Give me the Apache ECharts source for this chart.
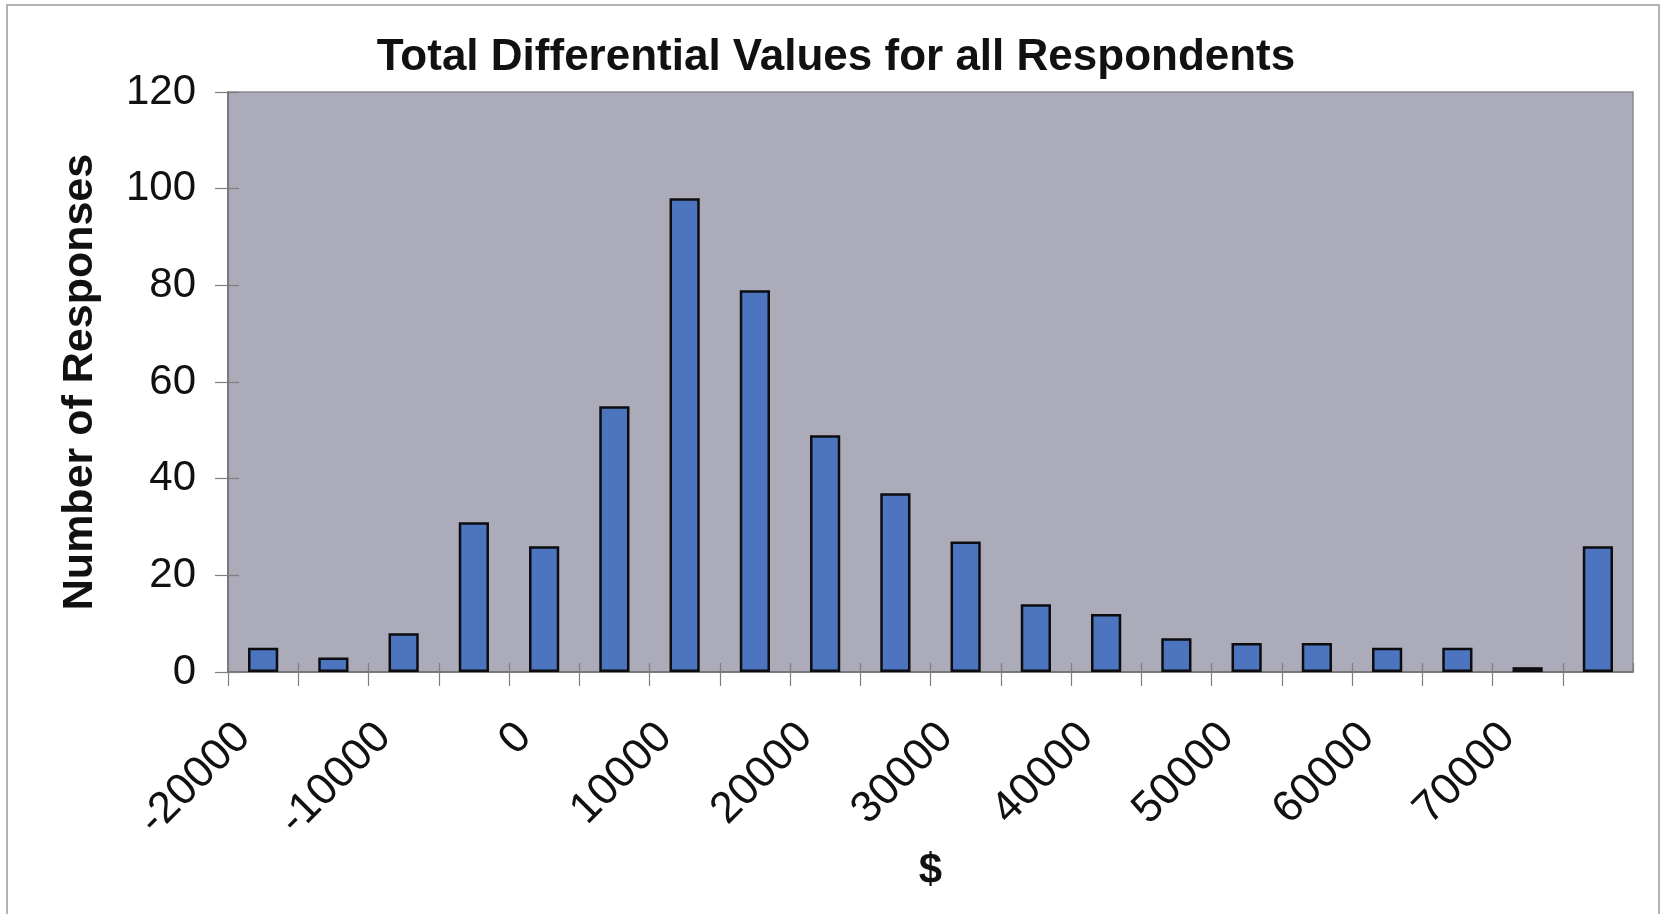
<!DOCTYPE html>
<html>
<head>
<meta charset="utf-8">
<title>Total Differential Values for all Respondents</title>
<script src="https://cdn.jsdelivr.net/npm/echarts@6/dist/echarts.min.js"></script>
<style>
  html, body { margin: 0; padding: 0; background: #ffffff; }
  #chart { width: 1662px; height: 914px; }
</style>
</head>
<body>
<div id="chart"></div>
<script>
// Histogram bins: lower bound of each $5000-wide bin
const binStarts = [-20000, -15000, -10000, -5000, 0, 5000, 10000, 15000, 20000, 25000,
                   30000, 35000, 40000, 45000, 50000, 55000, 60000, 65000, 70000, 75000];
const binWidth = 5000;
// Number of responses falling in each bin
const counts = [5, 3, 8, 31, 26, 55, 98, 79, 49, 37,
                27, 14, 12, 7, 6, 6, 5, 5, 1, 26];
// Dollar values printed under the axis
const xTickLabels = [-20000, -10000, 0, 10000, 20000, 30000, 40000, 50000, 60000, 70000];
const yTicks = [0, 20, 40, 60, 80, 100, 120];

const xMin = binStarts[0];
const xMax = binStarts[binStarts.length - 1] + binWidth;
const barData = binStarts.map((s, i) => [s + binWidth / 2, counts[i]]);

const FONT = '"Liberation Sans", Arial, sans-serif';
const TICK = { color: '#7e7e82', width: 1.2 };

const chart = echarts.init(document.getElementById('chart'));
chart.setOption({
  animation: false,
  backgroundColor: '#ffffff',
  grid: {
    show: true, backgroundColor: '#ababb9', borderColor: '#8a8a8e', borderWidth: 1.5,
    left: 228, right: 29, top: 92, bottom: 242
  },
  xAxis: [
    {
      type: 'value',
      min: xMin,
      max: xMax,
      interval: binWidth,
      name: '$',
      nameLocation: 'middle',
      nameGap: 178,
      nameTextStyle: { fontFamily: FONT, fontSize: 42, fontWeight: 'bold', color: '#111' },
      axisLine: { show: true, onZero: false, lineStyle: { color: '#6e6e6e', width: 1.5 } },
      axisTick: { show: true, length: 14, lineStyle: TICK },
      splitLine: { show: false },
      axisLabel: {
        rotate: 45,
        margin: 74,
        padding: [0, -22, 0, 0],
        fontFamily: FONT,
        fontSize: 44,
        color: '#111',
        showMaxLabel: false,
        formatter: function (v) {
          return xTickLabels.indexOf(v) >= 0 ? String(v) : '';
        }
      }
    },
    {
      // upper half of the crossing tick marks on the dollar axis
      type: 'value',
      position: 'bottom',
      min: xMin,
      max: xMax,
      interval: binWidth,
      axisLine: { show: false, onZero: false },
      axisTick: { show: true, inside: true, length: 9, lineStyle: TICK },
      axisLabel: { show: false },
      splitLine: { show: false }
    }
  ],
  yAxis: [
    {
      type: 'value',
      min: yTicks[0],
      max: yTicks[yTicks.length - 1],
      interval: 20,
      name: 'Number of Responses',
      nameLocation: 'middle',
      nameGap: 126,
      nameTextStyle: { fontFamily: FONT, fontSize: 43, fontWeight: 'bold', color: '#111' },
      axisLine: { show: true, onZero: false, lineStyle: { color: '#6e6e6e', width: 1.5 } },
      axisTick: { show: true, length: 13, lineStyle: TICK },
      splitLine: { show: false },
      axisLabel: { margin: 32, fontFamily: FONT, fontSize: 42, color: '#111' }
    },
    {
      // inner half of the crossing tick marks on the count axis
      type: 'value',
      position: 'left',
      min: yTicks[0],
      max: yTicks[yTicks.length - 1],
      interval: 20,
      axisLine: { show: false, onZero: false },
      axisTick: { show: true, inside: true, length: 11, lineStyle: TICK },
      axisLabel: { show: false },
      splitLine: { show: false }
    }
  ],
  series: [
    {
      type: 'bar',
      xAxisIndex: 0,
      yAxisIndex: 0,
      data: barData,
      barWidth: '43%',
      itemStyle: { color: '#4d74be', borderColor: '#0d0d10', borderWidth: 2.5 }
    }
  ],
  graphic: [
    {
      type: 'text',
      x: 836,
      y: 36,
      style: {
        text: 'Total Differential Values for all Respondents',
        font: 'bold 44px ' + FONT,
        fill: '#111',
        align: 'center',
        verticalAlign: 'top'
      }
    },
    {
      type: 'polyline',
      shape: { points: [[7, 914], [7, 5], [1659, 5], [1659, 914]] },
      style: { stroke: '#9a9a9a', lineWidth: 1.5, fill: null }
    }
  ]
});
</script>
</body>
</html>
